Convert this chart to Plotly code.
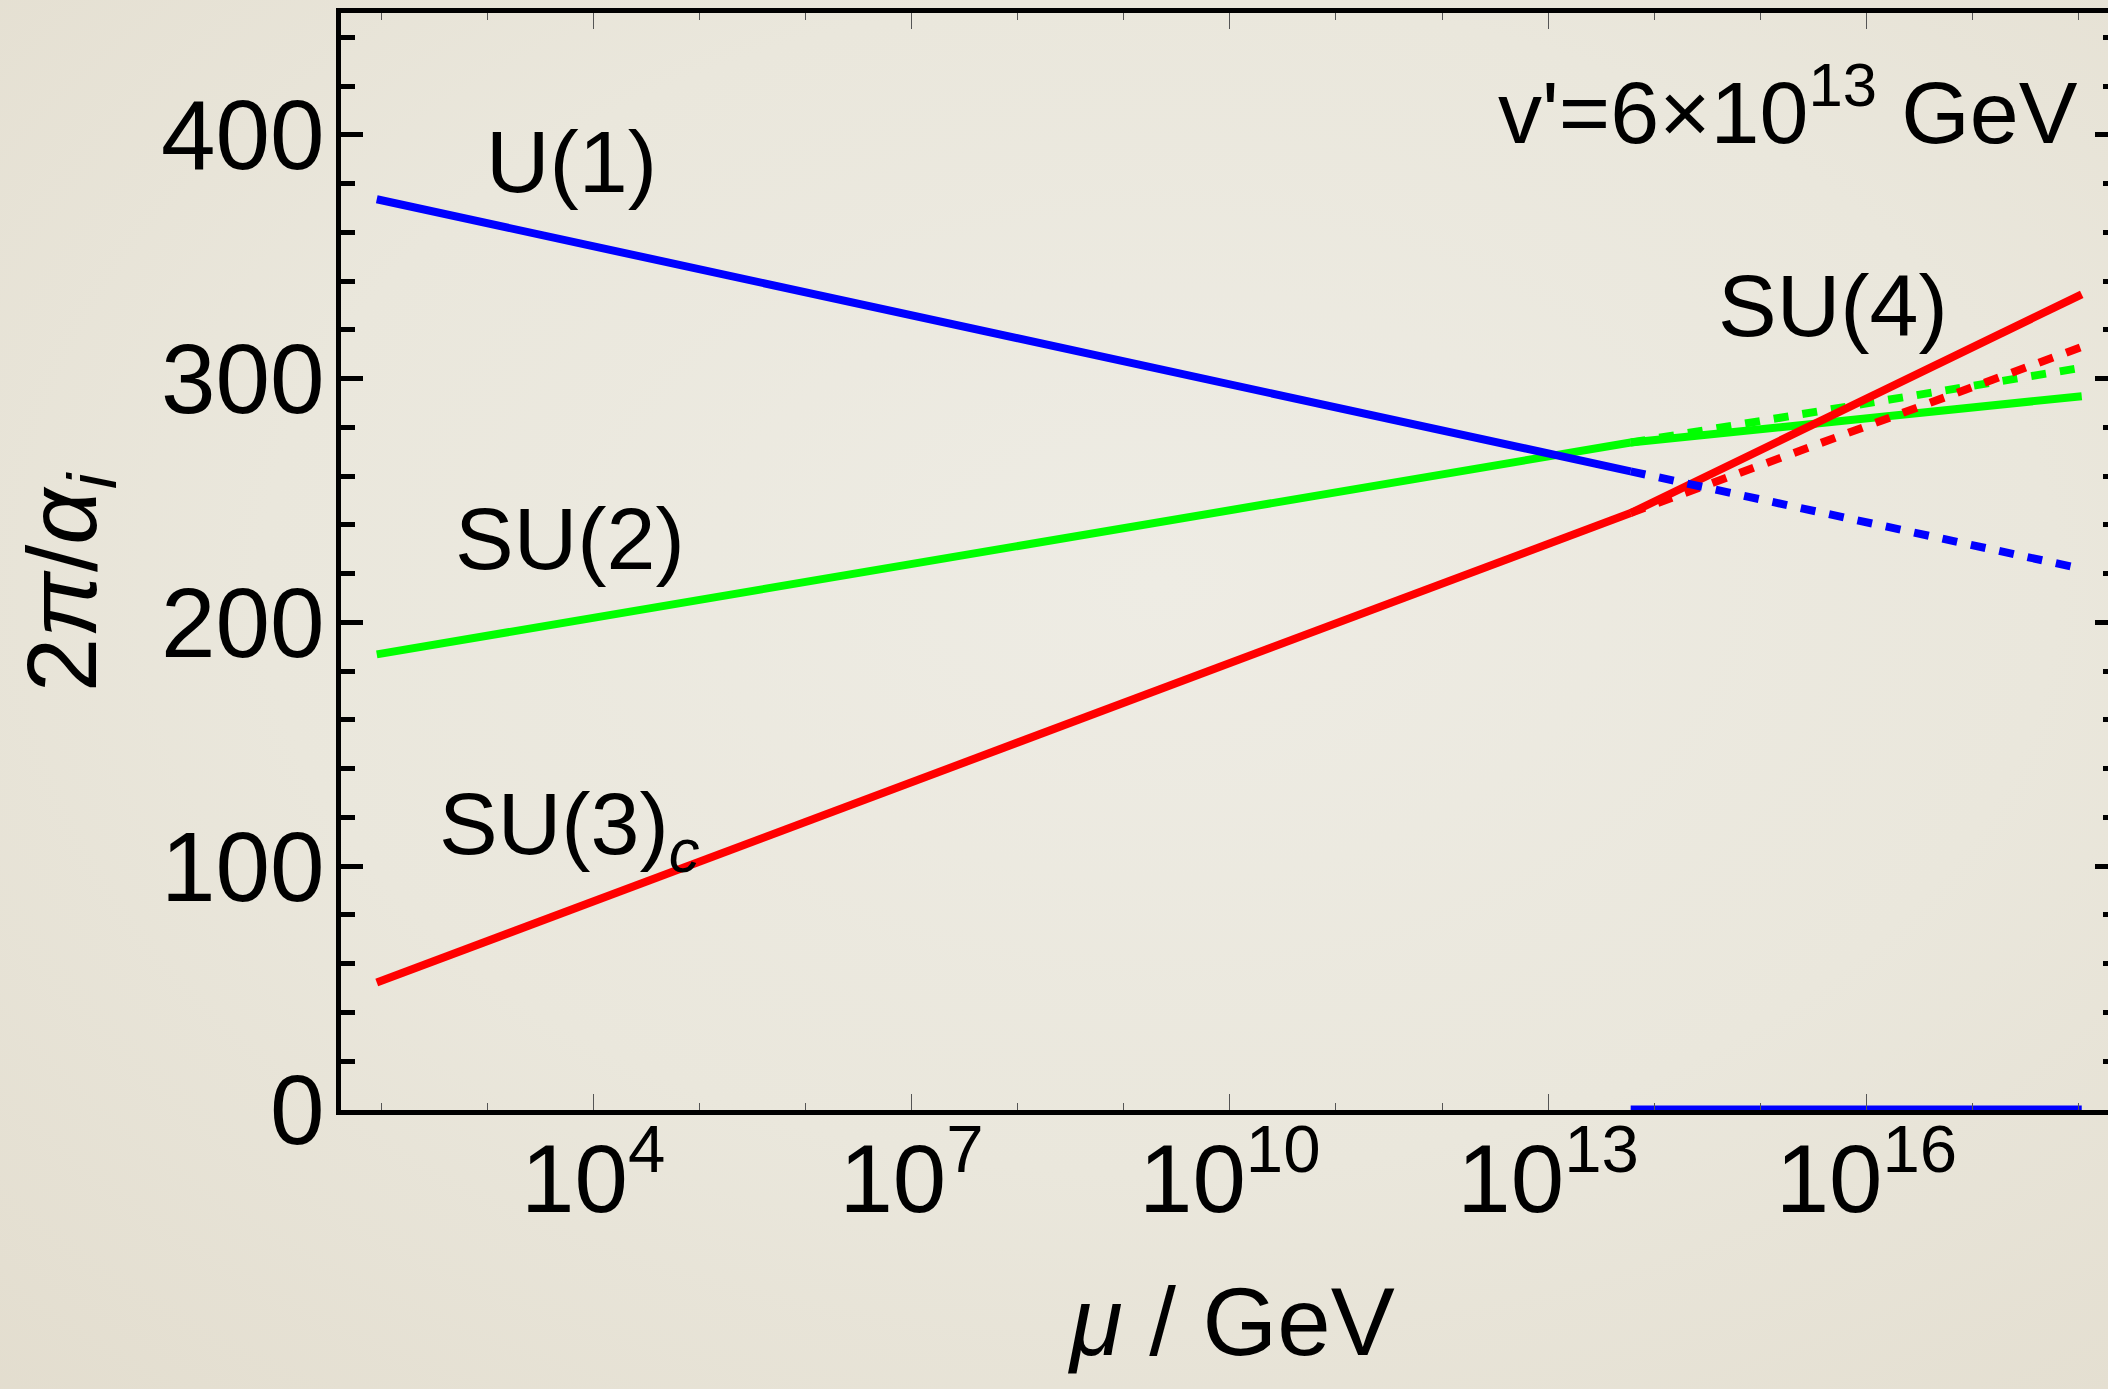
import base64
import numpy as np
import plotly.graph_objects as go

# ---------------- data ----------------
mu_sm = [91.19, 6.0e13]            # GeV, low-energy running up to v'
u1_sm = [373.6, 262.0]
su2_sm = [186.9, 273.8]
su3_sm = [52.3, 244.9]

mu_high = [6.0e13, 1.07e18]        # GeV, above v'
u1_cont = [262.0, 222.0]           # dotted continuations
su2_cont = [273.8, 304.5]
su3_cont = [244.9, 313.0]
su2_high = [273.8, 292.8]          # solid above v'
su4_high = [244.9, 334.6]
band_y = [0, 0]                    # blue band on the axis from v' upward

x_tickvals = [1e4, 1e7, 1e10, 1e13, 1e16]
x_ticktext = ["10<sup>4</sup>", "10<sup>7</sup>", "10<sup>10</sup>",
              "10<sup>13</sup>", "10<sup>16</sup>"]
x_minorvals = [10.0 ** k for k in range(2, 19)]

FONT = "Liberation Sans, Arial, sans-serif"
BLUE, GREEN, RED = "#0000FF", "#00FF00", "#FF0000"
LW = 8
DOT = "15px,14px"

W, H = 2108, 1389
ML, MR, MT, MB = 341, 0, 13, 279
PW, PH = W - ML - MR, H - MT - MB

fig = go.Figure()

def seg(x, y, color, dash="solid", yaxis="y"):
    fig.add_trace(go.Scatter(x=x, y=y, mode="lines", yaxis=yaxis,
                             line=dict(color=color, width=LW, dash=dash),
                             showlegend=False, hoverinfo="skip"))

# green
seg(mu_sm, su2_sm, GREEN)
seg(mu_high, su2_cont, GREEN, DOT)
seg(mu_high, su2_high, GREEN)
# red
seg(mu_sm, su3_sm, RED)
seg(mu_high, su3_cont, RED, DOT)
seg(mu_high, su4_high, RED)
# blue
seg(mu_sm, u1_sm, BLUE)
seg(mu_high, u1_cont, BLUE, DOT)
# blue band along the axis (on the right-side y axis so that axis gets drawn)
fig.add_trace(go.Scatter(x=mu_high, y=band_y, mode="lines", yaxis="y2",
                         line=dict(color=BLUE, width=9),
                         showlegend=False, hoverinfo="skip"))

lab_font = dict(family=FONT, size=88, color="black")
ann = [
    dict(text="U(1)", x=2.97, y=389, xanchor="left", yanchor="middle"),
    dict(text="SU(2)", x=2.68, y=234.4, xanchor="left", yanchor="middle"),
    dict(text="SU(3)<sub><i>c</i></sub>", x=2.53, y=115, xanchor="left", yanchor="middle"),
    dict(text="SU(4)", x=14.58, y=330.2, xanchor="left", yanchor="middle"),
    dict(text="v'=6×10<sup>13</sup> GeV", x=18.01, y=412, xanchor="right", yanchor="middle"),
]
annotations = []
for a in ann:
    a.update(xref="x", yref="y", showarrow=False, font=lab_font)
    annotations.append(a)

# axis titles
annotations.append(dict(text="<i>μ</i> / GeV", xref="paper", yref="paper",
                        x=0.5037, y=-0.193, xanchor="center", yanchor="middle",
                        showarrow=False, font=dict(family=FONT, size=96, color="black")))
annotations.append(dict(text="2<i>π</i>/<i>α</i><sub><i>i</i></sub>", xref="paper", yref="paper",
                        x=-0.154, y=0.481, xanchor="center", yanchor="middle",
                        textangle=-90, showarrow=False,
                        font=dict(family=FONT, size=98, color="black")))

# soft beige background with a lighter centre
svg = f"""<svg xmlns='http://www.w3.org/2000/svg' width='{W}' height='{H}' viewBox='0 0 {W} {H}'>
<defs><radialGradient id='g' cx='0.55' cy='0.42' r='0.85'>
<stop offset='0' stop-color='#EEECE4'/><stop offset='0.5' stop-color='#EAE7DC'/>
<stop offset='1' stop-color='#E2DCCD'/></radialGradient></defs>
<rect width='{W}' height='{H}' fill='url(#g)'/></svg>"""
src = "data:image/svg+xml;base64," + base64.b64encode(svg.encode()).decode()

fig.update_layout(
    width=W, height=H,
    margin=dict(l=ML, r=MR, t=MT, b=MB, pad=0),
    paper_bgcolor="#E4DFD2",
    plot_bgcolor="rgba(0,0,0,0)",
    font=dict(family=FONT, color="black"),
    annotations=annotations,
    images=[dict(source=src, xref="paper", yref="paper",
                 x=-ML / PW, y=1 + MT / PH, sizex=W / PW, sizey=H / PH,
                 xanchor="left", yanchor="top", sizing="stretch", layer="below")],
    xaxis=dict(type="log", range=[1.623, 18.277],
               showline=True, linecolor="black", linewidth=4.5, mirror="ticks",
               ticks="inside", ticklen=16, tickwidth=1.3, tickcolor="#555555",
               tickmode="array", tickvals=x_tickvals, ticktext=x_ticktext,
               tickfont=dict(family=FONT, size=96, color="black"),
               ticklabelstandoff=-18,
               minor=dict(tickmode="array", tickvals=x_minorvals, ticks="inside",
                          ticklen=7, tickwidth=1.3, tickcolor="#555555", showgrid=False),
               showgrid=False, zeroline=False),
    yaxis=dict(range=[0, 450], showline=True, linecolor="black", linewidth=5,
               ticks="inside", ticklen=22, tickwidth=4.5, tickcolor="black",
               tick0=0, dtick=100,
               tickfont=dict(family=FONT, size=98, color="black"),
               ticklabelstandoff=-8,
               minor=dict(dtick=20, tick0=0, ticks="inside", ticklen=14,
                          tickwidth=4.5, tickcolor="black", showgrid=False),
               showgrid=False, zeroline=False),
    yaxis2=dict(overlaying="y", side="right", anchor="x", matches="y",
                range=[0, 450], showline=False, showticklabels=False,
                ticks="inside", ticklen=13, tickwidth=4.5, tickcolor="black",
                tick0=0, dtick=100,
                minor=dict(dtick=20, tick0=0, ticks="inside", ticklen=5,
                           tickwidth=4.5, tickcolor="black", showgrid=False),
                showgrid=False, zeroline=False),
)

fig.write_html("out.html", config={"displayModeBar": False},
               post_script="document.body.style.margin='0';")
